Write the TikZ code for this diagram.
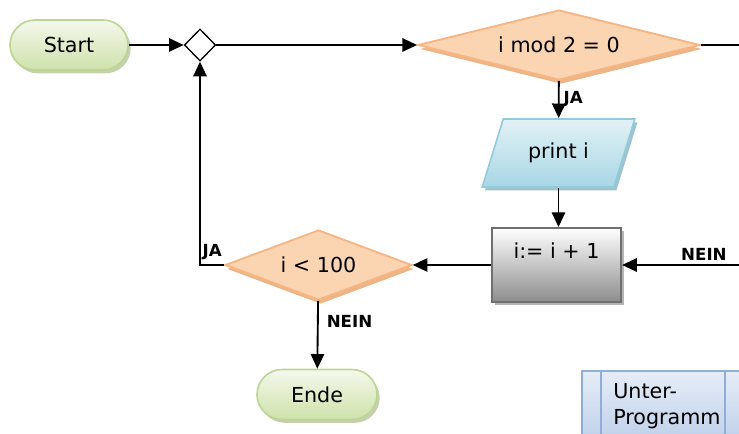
\documentclass[tikz,border=0pt]{standalone}
\usepackage{fontspec}
\setmainfont{DejaVu Sans}
\usetikzlibrary{shapes.geometric,arrows.meta,shadows}

% colours of the flowchart
\definecolor{termtop}{HTML}{F4F8EC}
\definecolor{termbot}{HTML}{CFE1AA}
\definecolor{termline}{HTML}{BDD593}
\definecolor{termshadow}{HTML}{C5D1AE}
\definecolor{decfill}{HTML}{FBD4B1}
\definecolor{decline}{HTML}{F6B684}
\definecolor{decshadow}{HTML}{EDB486}
\definecolor{iotop}{HTML}{E2F1F6}
\definecolor{iobot}{HTML}{A8D7E5}
\definecolor{ioline}{HTML}{92CCDC}
\definecolor{ioshadow}{HTML}{9EC3CF}
\definecolor{procline}{HTML}{707070}
\definecolor{procshadow}{HTML}{B4B4B4}
\definecolor{subtop}{HTML}{E6EDF8}
\definecolor{subbot}{HTML}{B9CCE7}
\definecolor{subline}{HTML}{8FADD5}

\tikzset{
    base/.style={font=\fontsize{15.5}{19.5}\selectfont, inner sep=0pt},
    term/.style={base, rectangle, rounded corners=18.75pt,
        minimum width=88.5pt, minimum height=37.5pt,
        draw=termline, line width=1.2pt, top color=termtop, bottom color=termbot,
        general shadow={shadow xshift=2pt, shadow yshift=-2.5pt, fill=termshadow}},
    decision/.style={base, diamond, draw=decline, line width=1.4pt, fill=decfill,
        general shadow={shadow xshift=1.5pt, shadow yshift=-3pt, fill=decshadow}},
    junction/.style={diamond, draw, line width=1pt, fill=white, inner sep=0pt,
        minimum width=23.5pt, minimum height=24pt},
    io/.style={base, trapezium, trapezium left angle=60, trapezium right angle=120,
        trapezium stretches=true, minimum width=115pt, minimum height=51pt,
        draw=ioline, line width=1.2pt, top color=iotop, bottom color=iobot,
        general shadow={shadow xshift=2pt, shadow yshift=-2.5pt, fill=ioshadow}},
    proc/.style={rectangle, minimum width=97pt, minimum height=55.5pt,
        draw=procline, line width=1.4pt, top color=white, bottom color=black!45,
        general shadow={shadow xshift=2pt, shadow yshift=-2.5pt, fill=procshadow}},
    subprog/.style={rectangle, draw=subline, line width=1.2pt,
        top color=subtop, bottom color=subbot},
    lab/.style={font=\fontsize{12.5}{14}\selectfont\bfseries, inner sep=3pt},
    arr/.style={-{Triangle[length=11pt,width=10pt]}, line width=1.4pt},
    line/.style={line width=1.4pt}
}

\begin{document}
\begin{tikzpicture}[x=0.75pt, y=-0.75pt]
    % picture size 739 x 434
    \clip (0,0) rectangle (739,434);

    % nodes of the chart
    \node[term] (start) at (69,45) {Start};
    \node[junction] (join) at (200,45) {};
    \node[decision, aspect=4, minimum width=211.5pt, minimum height=52.5pt] (mod) at (559,45) {i mod 2 = 0};
    \node[io] (print) at (558.5,153) {print i};
    \node[proc] (inc) at (556.5,265) {};
    \node[base] (inctext) at (556.5,251) {i:= i + 1};
    \node[decision, aspect=2.7, minimum width=140pt, minimum height=52.5pt] (less) at (318.5,265) {i < 100};
    \node[term, minimum width=90pt] (ende) at (317,394.5) {Ende};

    % sub program box, cut by the right and bottom border
    \node[subprog, anchor=north west, minimum width=150pt, minimum height=60pt] (sub) at (581,370) {};
    \draw[subline, line width=1.2pt] (601,370) -- (601,440);
    \draw[subline, line width=1.2pt] (725,370) -- (725,440);
    \node[base, anchor=north west, align=left] (subtext) at (613,383) {Unter-\\Programm};

    % loose ends at the right border
    \coordinate (outR) at (739,45);
    \coordinate (inR) at (739,265);

    % connectors
    \draw[arr] (start) -- (join);
    \draw[arr] (join) -- (mod);
    \draw[line] (mod.east) -- (outR);
    \draw[arr] (mod) -- node[lab, right] {JA} (print);
    \draw[arr] (print.south) -- (print.south |- inc.north);
    \draw[arr] (inR) -- node[lab, above, pos=0.3] {NEIN} (inc);
    \draw[arr] (inc) -- (less);
    \draw[arr] (less.west) -| node[lab, above, pos=0.25] {JA} (join.south);
    \draw[arr] (less) -- node[lab, right, pos=0.3, xshift=3pt] {NEIN} (ende);
\end{tikzpicture}
\end{document}
